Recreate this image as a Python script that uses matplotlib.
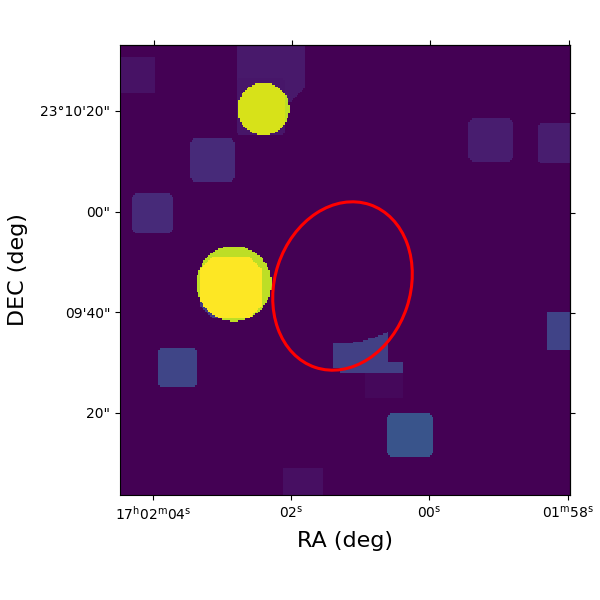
import numpy as np
import matplotlib
matplotlib.use("Agg")
import matplotlib.pyplot as plt
from matplotlib.patches import Ellipse

n_cells = 270

# exposure boxes on the pixel grid: col0, col1, row0, row1, clipped corner size
box_names = ["a", "b", "b2", "d", "e", "f", "g", "h", "sq", "i", "j", "k", "l"]
box_col0 = [0, 70, 70, 42, 7, 209, 251, 23, 48, 147, 160, 256, 98]
box_col1 = [21, 111, 99, 69, 32, 236, 270, 46, 85, 170, 188, 270, 122]
box_row0 = [241, 236, 216, 188, 157, 200, 199, 65, 106, 58, 23, 87, 0]
box_row1 = [263, 270, 250, 214, 181, 226, 223, 88, 143, 73, 49, 110, 16]
box_cut = [0, 9, 2, 3, 3, 3, 2, 2, 8, 0, 3, 0, 0]
box_vals = [0.05, 0.07, 0.06, 0.12, 0.12, 0.08, 0.08, 0.21, 0.17, 0.02, 0.26, 0.20, 0.04]

# the cut-off box next to the ellipse
cut_col0 = [128, 132]
cut_col1 = [161, 170]
cut_row0 = [76, 73]
cut_row1 = [98, 80]
cut_val = 0.19
cut_mask = (129, 164.4, 73.8)

# bright sources: col, row, radius, value
src_col = [86.1, 68.4]
src_row = [231.6, 126.9]
src_r = [15.6, 22.5]
src_val = [0.90, 0.90]
# part of each source sitting on a box
over_box = ["b2", "sq"]
over_val = [0.94, 1.0]

# the grid is very slightly rotated, so opposite ticks do not line up
bottom_ticks = [19.8, 102.6, 185.4, 268.8]
top_ticks = [20.4, 103.2, 186, 269.4]
left_ticks = [230.4, 169.8, 109.8, 49.2]
right_ticks = [229.2, 169.2, 109.2, 49.2]
ra_labels = [r"$\mathregular{17^h02^m04^s}$", r"$\mathregular{02^s}$",
             r"$\mathregular{00^s}$", r"$\mathregular{01^m58^s}$"]
dec_labels = ["23°10'20\"", "00\"", "09'40\"", "20\""]

ell_center = (133.5, 125.4)
ell_w = 103
ell_h = 81.3
ell_angle = 71.5

yy, xx = np.mgrid[0:n_cells, 0:n_cells] + 0.5


def box_mask(c0, c1, r0, r1, cut):
    m = (xx >= c0) & (xx < c1) & (yy >= r0) & (yy < r1)
    for cx in (c0, c1):
        for cy in (r0, r1):
            # corners on the image edge stay square
            if cx in (0, n_cells) or cy in (0, n_cells):
                continue
            m &= np.abs(xx - cx) + np.abs(yy - cy) >= cut
    return m


img = np.zeros((n_cells, n_cells))
for i in range(len(box_vals)):
    img[box_mask(box_col0[i], box_col1[i], box_row0[i], box_row1[i], box_cut[i])] = box_vals[i]

outside = (xx - cut_mask[0]) ** 2 + (yy - cut_mask[1]) ** 2 > cut_mask[2] ** 2
for i in range(len(cut_col0)):
    m = (xx >= cut_col0[i]) & (xx < cut_col1[i]) & (yy >= cut_row0[i]) & (yy < cut_row1[i])
    img[m & outside] = cut_val

for i in range(len(src_val)):
    disc = (xx - src_col[i]) ** 2 + (yy - src_row[i]) ** 2 <= src_r[i] ** 2
    img[disc] = src_val[i]
    j = box_names.index(over_box[i])
    on_box = box_mask(box_col0[j], box_col1[j], box_row0[j], box_row1[j], box_cut[j])
    img[disc & on_box] = over_val[i]

fig = plt.figure(figsize=(6, 6), dpi=100)
ax = fig.add_axes([0.2, 0.175, 0.75, 0.75])
ax.imshow(img, origin="lower", cmap="viridis", vmin=0, vmax=1,
          extent=(0, n_cells, 0, n_cells), interpolation="nearest")
ax.add_patch(Ellipse(ell_center, ell_w, ell_h, angle=ell_angle, fill=False,
                     edgecolor="red", linewidth=2.2))

ax.set_xticks(bottom_ticks)
ax.set_xticklabels(ra_labels)
ax.set_yticks(left_ticks)
ax.set_yticklabels(dec_labels)
ax.tick_params(labelsize=10)
ax.set_xlabel("RA (deg)", fontsize=16, labelpad=6)
ax.set_ylabel("DEC (deg)", fontsize=16, labelpad=8.5)

top = ax.secondary_xaxis("top")
top.set_xticks(top_ticks)
top.set_xticklabels([])
right = ax.secondary_yaxis("right")
right.set_yticks(right_ticks)
right.set_yticklabels([])

fig.savefig("out.png", dpi=100)
